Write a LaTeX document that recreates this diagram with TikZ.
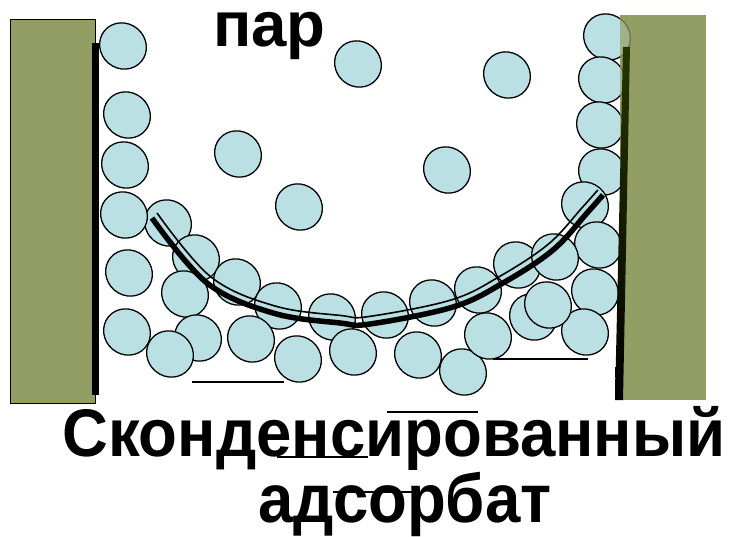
\documentclass[tikz,border=0pt]{standalone}
\usepackage{fontspec}
\setmainfont{Liberation Sans}
\begin{document}
\begin{tikzpicture}[x=1pt,y=-1pt,
  molecule/.style={fill=molfill, draw=black, line width=1.3pt},
  wall/.style={fill=wallolive},
  mark line/.style={draw=black, line width=1.5pt},
  label text/.style={inner sep=0pt, font=\bfseries\fontsize{63.5}{64}\selectfont}]
\definecolor{molfill}{RGB}{187,224,227}
\definecolor{wallolive}{RGB}{146,158,99}
\definecolor{walldark}{RGB}{40,54,0}
\useasboundingbox[fill=white] (0,0) rectangle (731,537);

% left wall with its dark face
\draw[wall, draw=black, line width=1pt] (10,20) rectangle (95,403);
\fill[black] (92,43) rectangle (99,395);

% adsorbed and free molecules
\def\molecules{
  238/154, 299/207, 358/64, 507/75, 447/170,
  123/46, 127/115, 125/165, 168/223, 124/215, 129/273, 127/332,
  607/37, 602/80, 600/125, 602/172, 585/205, 598/245, 595/292, 585/332,
  196/258, 185/294, 237/282, 278/306, 198/338, 170/354, 251/339,
  298/359, 332/317, 353/352, 385/315, 418/355, 433/303, 463/372,
  478/290, 488/336, 517/265, 555/257, 533/317, 548/305}
\foreach \x/\y in \molecules
  \draw[molecule, rotate around={-40:(\x,\y)}] (\x,\y) ellipse (24 and 22.5);

% right wall; the molecules touching it show faintly through
\fill[wall] (620,15) rectangle (706,400);
\begin{scope}
  \clip (620,15) rectangle (706,400);
  \foreach \x/\y in {607/37, 602/80, 600/125, 602/172, 598/245}
    \draw[molecule, opacity=0.3, rotate around={-40:(\x,\y)}] (\x,\y) ellipse (24 and 22.5);
\end{scope}
\shade[top color=walldark, bottom color=black]
  (623,47) -- (630,47) -- (623,400) -- (615,400) -- cycle;

% meniscus of the condensed adsorbate
\draw[line width=5.5pt] plot[smooth, tension=0.6] coordinates {
  (152,218) (207,283) (273,313) (340,323) (370,324) (453,307)
  (503,283) (553,250) (587,213) (603,195)};
\draw[line width=1.6pt] plot[smooth, tension=0.6] coordinates {
  (157,213) (211,277) (275,306) (340.8,315.5) (369,316.5) (451,300)
  (499.5,276.5) (548.5,244) (581.8,208) (597.8,190)};

% short strokes
\draw[mark line] (192,382) -- (284,382);
\draw[mark line] (493,359) -- (588,359);
\draw[mark line] (387,412) -- (478,412);
\draw[mark line] (277,457) -- (368,457);
\draw[mark line] (333,492) -- (412,492);

% labels
\node[label text, anchor=base west] (vapour) at (213,47) {пар};
\node[label text, anchor=base west] (cond) at (62,456) {\scalebox{1}[1.06]{Сконденсированный}};
\node[label text, anchor=base west] (ads) at (258,522) {\scalebox{1}[1.08]{адсорбат}};
\end{tikzpicture}
\end{document}
